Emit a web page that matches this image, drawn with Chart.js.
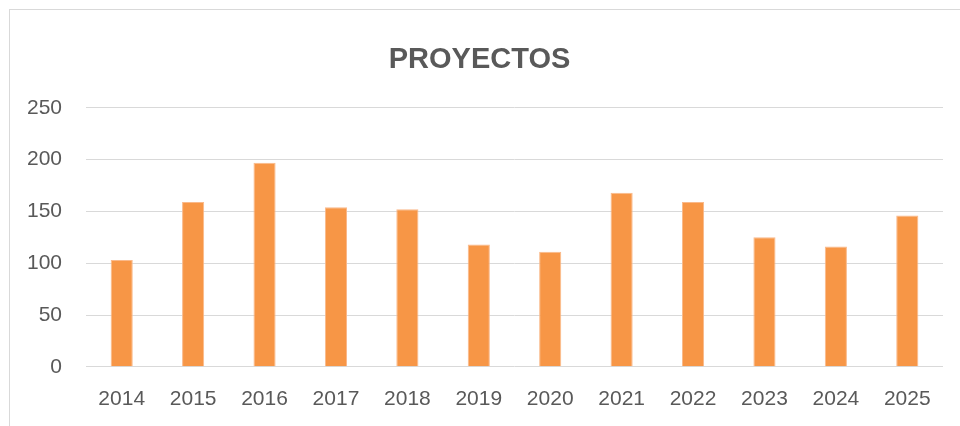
<!DOCTYPE html>
<html>
<head>
<meta charset="utf-8">
<script src="https://cdn.jsdelivr.net/npm/chart.js@4"></script>
<style>
  html, body { margin: 0; padding: 0; background: #fff; }
  #wrap { width: 960px; height: 426px; }
</style>
</head>
<body>
<div id="wrap"><canvas id="chart" width="960" height="426"></canvas></div>
<script>
const years = ["2014", "2015", "2016", "2017", "2018", "2019", "2020", "2021", "2022", "2023", "2024", "2025"];
const proyectos = [103, 159, 197, 154, 152, 118, 111, 168, 159, 125, 116, 146];

const textColour = "#595959";
const gridColour = "#d9d9d9";

// light frame around the chart, like the spreadsheet chart box
const frame = {
  id: "frame",
  beforeDraw(chart) {
    const ctx = chart.ctx;
    ctx.save();
    ctx.strokeStyle = gridColour;
    ctx.lineWidth = 1;
    ctx.strokeRect(9.5, 9.5, 960, 430);
    ctx.restore();
  },
};

new Chart(document.getElementById("chart").getContext("2d"), {
  type: "bar",
  data: {
    labels: years,
    datasets: [{
      label: "PROYECTOS",
      data: proyectos,
      backgroundColor: "#F79646",
      borderColor: "#FAB98A",
      borderWidth: 1,
      barPercentage: 0.62,
      categoryPercentage: 0.5,
    }],
  },
  options: {
    responsive: false,
    animation: false,
    layout: { padding: { top: 0, left: 16, right: 17, bottom: -6 } },
    plugins: {
      legend: { display: false },
      tooltip: { enabled: false },
      title: {
        display: true,
        text: "PROYECTOS",
        color: textColour,
        font: { family: "Liberation Sans", size: 29, weight: "bold" },
        padding: { top: 43, bottom: 30 },
      },
    },
    scales: {
      x: {
        grid: { display: false, drawTicks: false },
        border: { display: false },
        ticks: {
          color: textColour,
          font: { family: "Liberation Sans", size: 21 },
          padding: 20,
          maxRotation: 0,
        },
      },
      y: {
        min: 0,
        max: 250,
        grid: { color: gridColour, lineWidth: 1, drawTicks: false },
        border: { display: false },
        ticks: {
          stepSize: 50,
          color: textColour,
          font: { family: "Liberation Sans", size: 21 },
          padding: 24,
        },
        afterFit(scale) {
          scale.width = 70;
        },
      },
    },
  },
  plugins: [frame],
});
</script>
</body>
</html>
